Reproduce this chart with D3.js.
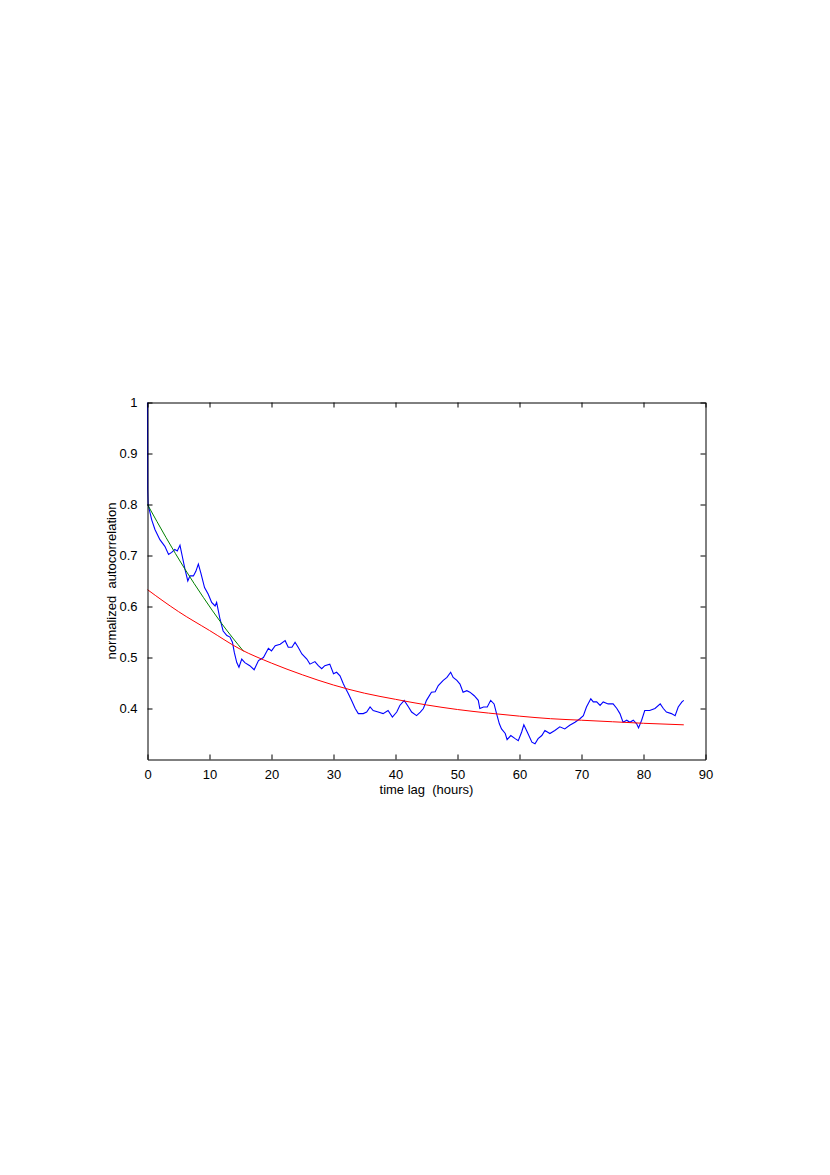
<!DOCTYPE html>
<meta charset="utf-8">
<style>
body { margin: 0; background: #fff; }
text { font-family: "Liberation Sans", Arial, sans-serif; font-size: 13px; fill: #000; }
</style>
<body>
<script src="https://cdn.jsdelivr.net/npm/d3@7"></script>
<script>
var width = 830
var height = 1175
var margin = {top: 402.5, right: 124.5, bottom: 415.5, left: 147.5}

// measured autocorrelation (hours, value)
var lagData = [
    [0, 1.0], [0.03, 0.83], [0.1, 0.80], [0.68, 0.77], [1.2, 0.751], [2.0, 0.731], [2.8, 0.718],
    [3.4, 0.702], [3.9, 0.706], [4.4, 0.712], [4.8, 0.709], [5.24, 0.72], [5.6, 0.699], [6.05, 0.673],
    [6.5, 0.65], [6.85, 0.66], [7.4, 0.66], [7.8, 0.669], [8.2, 0.683], [8.6, 0.666], [9.2, 0.637],
    [9.8, 0.624], [10.35, 0.608], [10.9, 0.601], [11.15, 0.608], [11.7, 0.575], [12.2, 0.552],
    [12.8, 0.543], [13.3, 0.54], [13.7, 0.53], [14.0, 0.51], [14.4, 0.49], [14.75, 0.481],
    [15.2, 0.497], [15.7, 0.49], [16.5, 0.484], [17.2, 0.476], [17.9, 0.494], [18.7, 0.50],
    [19.5, 0.518], [20.0, 0.513], [20.6, 0.523], [21.4, 0.526], [22.2, 0.533], [22.7, 0.52],
    [23.3, 0.52], [23.8, 0.53], [24.3, 0.52], [24.9, 0.507], [25.7, 0.497], [26.2, 0.487],
    [27.0, 0.492], [27.55, 0.484], [28.1, 0.478], [28.6, 0.484], [29.4, 0.487], [30.0, 0.468],
    [30.5, 0.471], [31.05, 0.464], [31.6, 0.448], [32.0, 0.438], [32.4, 0.429], [32.9, 0.416],
    [33.5, 0.40], [34.0, 0.39], [34.8, 0.39], [35.35, 0.393], [35.9, 0.403], [36.4, 0.396],
    [37.2, 0.393], [38.0, 0.39], [38.8, 0.396], [39.5, 0.383], [40.2, 0.393], [40.7, 0.406],
    [41.4, 0.416], [42.1, 0.403], [42.6, 0.393], [43.4, 0.386], [44.0, 0.393], [44.5, 0.40],
    [45.0, 0.416], [45.8, 0.432], [46.4, 0.433], [46.9, 0.445], [47.7, 0.455], [48.3, 0.461],
    [48.9, 0.471], [49.3, 0.461], [49.9, 0.455], [50.4, 0.448], [50.9, 0.432], [51.5, 0.435],
    [52.0, 0.432], [52.7, 0.425], [53.35, 0.416], [53.6, 0.40], [54.2, 0.403], [54.8, 0.403],
    [55.35, 0.416], [55.9, 0.409], [56.3, 0.39], [56.75, 0.37], [57.1, 0.36], [57.7, 0.351],
    [58.0, 0.339], [58.6, 0.347], [59.3, 0.341], [59.8, 0.337], [60.35, 0.354], [60.7, 0.368],
    [61.25, 0.354], [62.0, 0.334], [62.5, 0.331], [63.0, 0.341], [63.6, 0.347], [64.1, 0.357],
    [64.9, 0.351], [65.7, 0.357], [66.5, 0.364], [67.3, 0.36], [68.1, 0.367], [68.95, 0.373],
    [69.75, 0.38], [70.3, 0.386], [70.8, 0.403], [71.5, 0.419], [71.9, 0.413], [72.45, 0.413],
    [73.0, 0.406], [73.5, 0.413], [74.3, 0.409], [75.1, 0.409], [75.7, 0.40], [76.2, 0.39],
    [76.7, 0.373], [77.3, 0.377], [77.8, 0.373], [78.35, 0.377], [78.9, 0.37], [79.2, 0.362],
    [79.7, 0.377], [80.2, 0.396], [81.0, 0.396], [81.85, 0.40], [82.7, 0.409], [83.2, 0.40],
    [83.7, 0.393], [84.5, 0.39], [85.1, 0.386], [85.6, 0.403], [86.2, 0.413], [86.5, 0.416]
]

// long-range fit (red)
var slowFit = [
    [0, 0.633], [5, 0.590], [10, 0.553], [15, 0.516], [20, 0.489], [25, 0.466], [30, 0.446],
    [35, 0.430], [40, 0.418], [45, 0.407], [50, 0.398], [55, 0.391], [60, 0.385], [65, 0.380],
    [70, 0.377], [75, 0.374], [80, 0.371], [86.5, 0.368]
]

// short-range fit (green)
var fastFit = [[0, 0.80], [3, 0.735], [6, 0.674], [9, 0.618], [12, 0.566], [15.5, 0.512]]

var xTicks = [0, 10, 20, 30, 40, 50, 60, 70, 80, 90]
var yTicks = [0.4, 0.5, 0.6, 0.7, 0.8, 0.9, 1]

var w = width - margin.left - margin.right
var h = height - margin.top - margin.bottom

var x = d3.scaleLinear().domain([0, 90]).range([0, w])
var y = d3.scaleLinear().domain([0.3, 1]).range([h, 0])

var svg = d3.select('body').append('svg')
    .attr('width', width)
    .attr('height', height)

var g = svg.append('g')
    .attr('transform', 'translate(' + margin.left + ',' + margin.top + ')')

var line = d3.line()
    .x(function (d) { return x(d[0]) })
    .y(function (d) { return y(d[1]) })

var smooth = d3.line()
    .curve(d3.curveMonotoneX)
    .x(function (d) { return x(d[0]) })
    .y(function (d) { return y(d[1]) })

g.append('path').datum(lagData)
    .attr('d', line)
    .attr('fill', 'none')
    .attr('stroke', '#0000ff')
    .attr('stroke-width', 1.1)

g.append('path').datum(fastFit)
    .attr('d', smooth)
    .attr('fill', 'none')
    .attr('stroke', '#008000')
    .attr('stroke-width', 1)

g.append('path').datum(slowFit)
    .attr('d', smooth)
    .attr('fill', 'none')
    .attr('stroke', '#ff0000')
    .attr('stroke-width', 1)

// axes with inward ticks, MATLAB style box
var fmt = function (d) { return d3.format('')(+d.toFixed(1)) }

g.append('g')
    .attr('transform', 'translate(0,' + h + ')')
    .call(d3.axisBottom(x).tickValues(xTicks).tickSizeInner(-5).tickSizeOuter(0).tickPadding(10))
g.append('g')
    .call(d3.axisTop(x).tickValues(xTicks).tickSizeInner(-5).tickSizeOuter(0).tickFormat(''))
g.append('g')
    .call(d3.axisLeft(y).tickValues(yTicks).tickSizeInner(-5).tickSizeOuter(0).tickPadding(10).tickFormat(fmt))
g.append('g')
    .attr('transform', 'translate(' + w + ',0)')
    .call(d3.axisRight(y).tickValues(yTicks).tickSizeInner(-5).tickSizeOuter(0).tickFormat(''))

g.selectAll('.domain').attr('stroke', '#000').attr('stroke-width', 1)
g.selectAll('.tick line').attr('stroke', '#000')
g.selectAll('.tick text').style('font-size', '13px').attr('font-family', null)

g.append('text')
    .attr('x', w / 2)
    .attr('y', h + 34)
    .attr('text-anchor', 'middle')
    .style('white-space', 'pre')
    .text('time lag  (hours)')

g.append('text')
    .attr('transform', 'translate(-32,' + (h / 2) + ') rotate(-90)')
    .attr('text-anchor', 'middle')
    .style('white-space', 'pre')
    .text('normalized  autocorrelation')
</script>
</body>
